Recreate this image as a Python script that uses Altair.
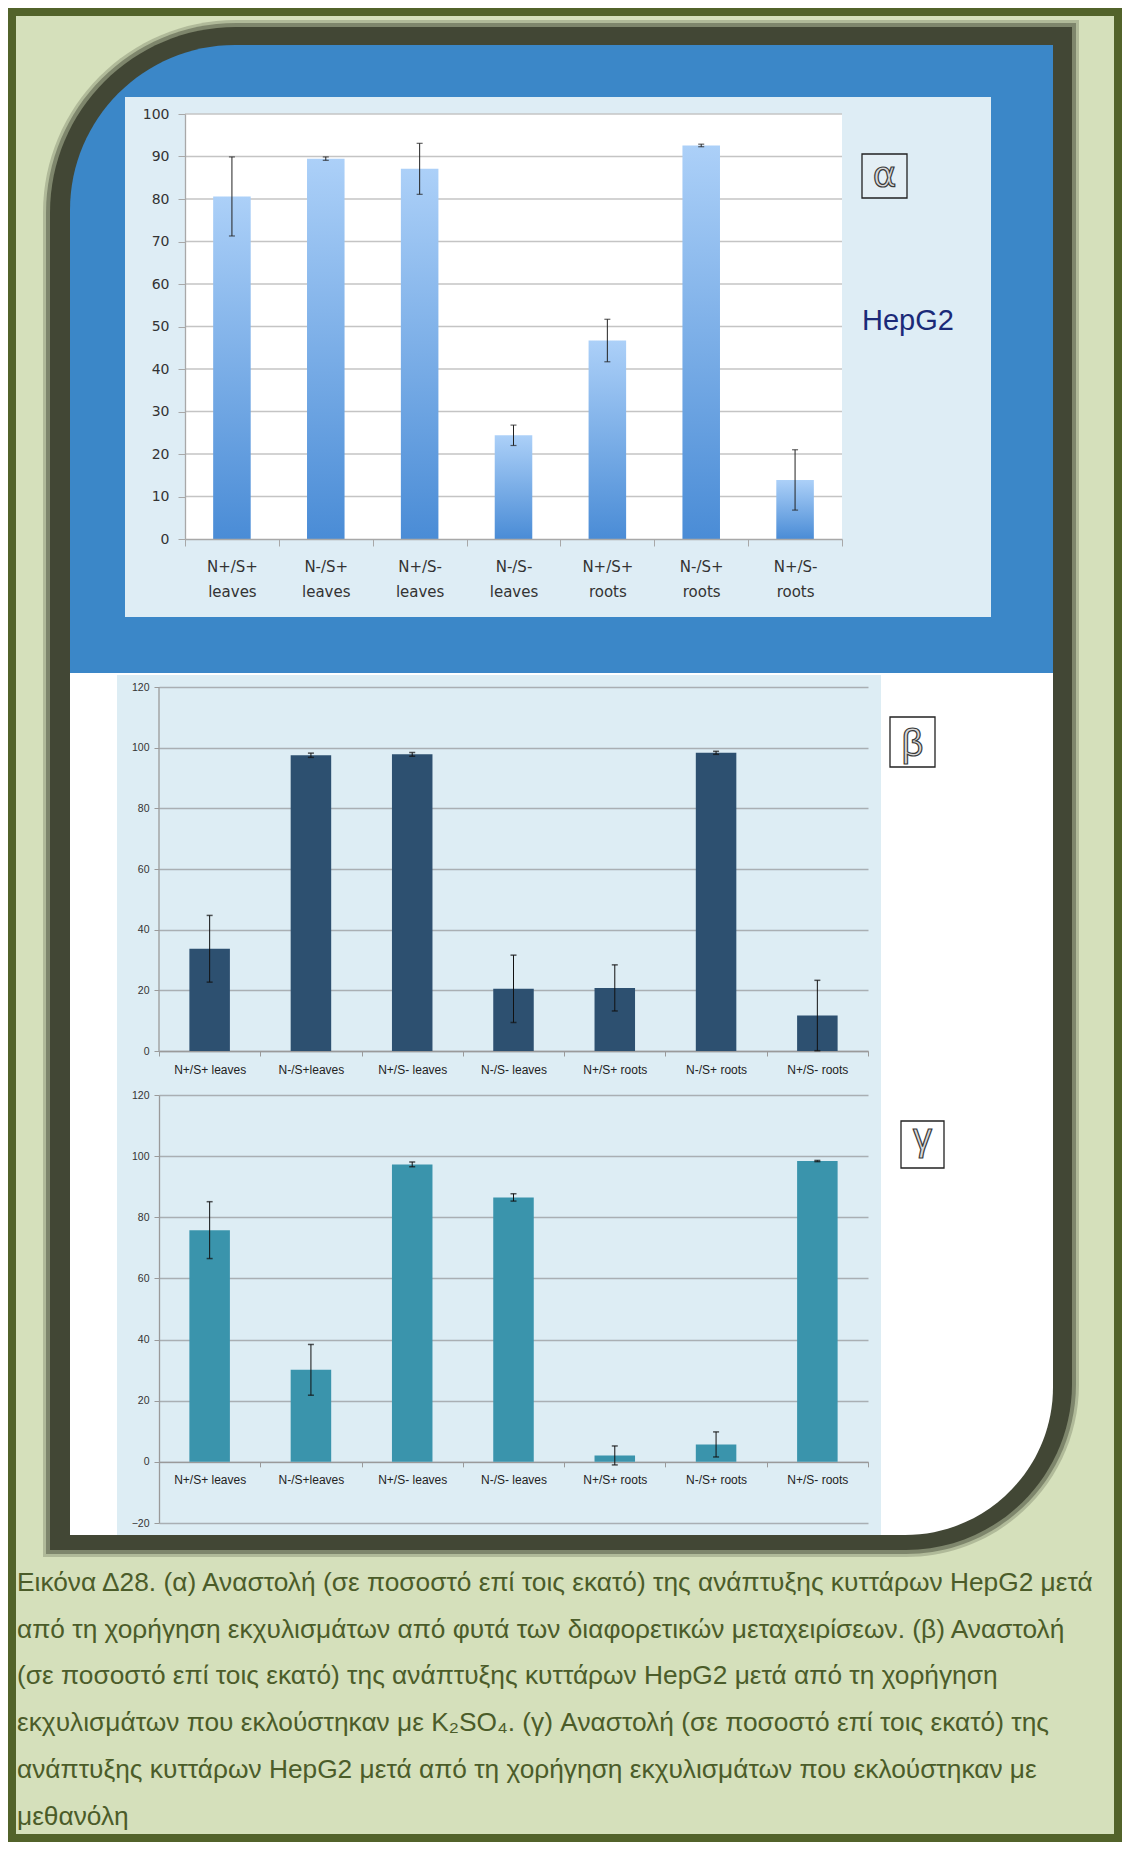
import altair as alt
import pandas as pd

# ---------------- data ----------------
cats_a = ["N+/S+ leaves", "N-/S+ leaves", "N+/S- leaves", "N-/S- leaves",
          "N+/S+ roots", "N-/S+ roots", "N+/S- roots"]
vals_a = [80.6, 89.5, 87.1, 24.4, 46.7, 92.6, 13.9]
errs_a = [9.3, 0.4, 6.0, 2.4, 5.0, 0.3, 7.1]

cats_bg = ["N+/S+ leaves", "N-/S+leaves", "N+/S- leaves", "N-/S- leaves",
           "N+/S+ roots", "N-/S+ roots", "N+/S- roots"]
vals_b = [33.7, 97.5, 97.8, 20.5, 20.8, 98.3, 11.7]
errs_b = [11.0, 0.7, 0.6, 11.1, 7.6, 0.5, 11.6]

vals_g = [75.8, 30.1, 97.3, 86.5, 2.1, 5.7, 98.4]
errs_g = [9.3, 8.3, 0.8, 1.2, 3.1, 4.1, 0.2]

ticks_a = list(range(0, 101, 10))
ticks_bg = list(range(0, 121, 20))
ticks_g = list(range(-20, 121, 20))

caption_lines = [
    "Εικόνα Δ28. (α) Αναστολή (σε ποσοστό επί τοις εκατό) της ανάπτυξης κυττάρων HepG2 μετά",
    "από τη χορήγηση εκχυλισμάτων από φυτά των διαφορετικών μεταχειρίσεων. (β) Αναστολή",
    "(σε ποσοστό επί τοις εκατό) της ανάπτυξης κυττάρων HepG2 μετά από τη χορήγηση",
    "εκχυλισμάτων που εκλούστηκαν με K₂SO₄. (γ) Αναστολή (σε ποσοστό επί τοις εκατό) της",
    "ανάπτυξης κυττάρων HepG2 μετά από τη χορήγηση εκχυλισμάτων που εκλούστηκαν με",
    "μεθανόλη",
]


def table(cats, vals, errs):
    return pd.DataFrame({
        "cat": cats,
        "val": vals,
        "lo": [v - e for v, e in zip(vals, errs)],
        "hi": [v + e for v, e in zip(vals, errs)],
    })


df_a = table(cats_a, vals_a, errs_a)
df_b = table(cats_bg, vals_b, errs_b)
df_g = table(cats_bg, vals_g, errs_g)

# ---------------- layout (page pixels) ----------------
A_W, A_H = 657, 425
B_W, B_H_PLOT, B_EXTRA = 709, 364, 104
B_H = B_H_PLOT + B_EXTRA
G_W, G_H = 709, 428
AX, AY = 159 + (B_W - A_W) / 2, 114     # origin of panel α after centring

ONE = pd.DataFrame({"k": [0]})

F_A = "DejaVu Sans"
F_BG = "Liberation Sans Narrow, Liberation Sans, Arial, sans-serif"
F_CAP = "Liberation Sans, Arial, sans-serif"

BAR_W = alt.RelativeBandSize(band=0.4)


def rect(x0, y0, x1, y1, **kw):
    return alt.Chart(ONE).mark_rect(**kw).encode(
        x=alt.value(x0 - AX), x2=alt.value(x1 - AX),
        y=alt.value(y0 - AY), y2=alt.value(y1 - AY))


def text(x, y, txt, **kw):
    return alt.Chart(ONE).mark_text(text=txt, **kw).encode(
        x=alt.value(x - AX), y=alt.value(y - AY))


FRAME = "#424735"
decor = [
    rect(12, 12, 1118, 1838, fill="#d5e0bb", stroke="#52632a", strokeWidth=8),
    rect(43, 20, 1079, 1557, fill=FRAME, opacity=0.25,
         cornerRadiusTopLeft=193, cornerRadiusBottomRight=173),
    rect(46, 23, 1076, 1554, fill=FRAME, opacity=0.45,
         cornerRadiusTopLeft=190, cornerRadiusBottomRight=170),
    rect(50, 27, 1072, 1550, fill=FRAME,
         cornerRadiusTopLeft=186, cornerRadiusBottomRight=166),
    rect(70, 45, 1053, 673, fill="#3b87c8", cornerRadiusTopLeft=165),
    rect(125, 97, 991, 617, fill="#deedf5"),
    rect(70, 673, 1053, 1535, fill="white", cornerRadiusBottomRight=148),
    rect(117, 675, 881, 1535, fill="#ddedf4"),
    rect(862, 154, 907, 198, fill="#e4eff5", stroke="#222222", strokeWidth=1.3),
    rect(890, 717, 935, 767, fill="white", stroke="#222222", strokeWidth=1.3),
    rect(901, 1121, 944, 1168, fill="white", stroke="#222222", strokeWidth=1.3),
    text(884.5, 187, "α", align="center", baseline="alphabetic", font=F_A,
         fontSize=36, fill="#d9d9d9", stroke="#3a3a3a", strokeWidth=1.2),
    text(912.5, 756, "β", align="center", baseline="alphabetic", font=F_BG,
         fontSize=38, fill="#d9d9d9", stroke="#3a3a3a", strokeWidth=1.2),
    text(922.5, 1150, "γ", align="center", baseline="alphabetic", font=F_BG,
         fontSize=38, fill="#d9d9d9", stroke="#3a3a3a", strokeWidth=1.2),
    text(862, 330, "HepG2", align="left", baseline="alphabetic", font=F_CAP,
         fontSize=29, color="#1b2a78"),
    text(17, 1591, caption_lines, align="left", baseline="alphabetic",
         font=F_CAP, fontSize=26.3, lineHeight=46.7, color="#4b5c29"),
]

# ---------------- panel α ----------------
xa = alt.X("cat:N", sort=cats_a,
           scale=alt.Scale(paddingInner=0, paddingOuter=0),
           axis=alt.Axis(title=None, labelAngle=0, tickBand="extent",
                         labelExpr="split(datum.label, ' ')", labelFont=F_A,
                         labelFontSize=15, labelColor="#333333", labelLineHeight=25,
                         labelPadding=13, tickSize=7, tickColor="#a8a8a8",
                         domainColor="#a8a8a8", domainWidth=1.3, grid=False,
                         labelOverlap=False, zindex=1))
ya_scale = alt.Scale(domain=[0, 100], nice=False)
ya_axis = alt.Axis(title=None, values=ticks_a, grid=False, tickSize=7,
                   tickColor="#a8a8a8", domainColor="#a8a8a8", domainWidth=1.3,
                   labelFont=F_A, labelFontSize=14, labelColor="#333333",
                   labelPadding=9, zindex=1)

grad = alt.Gradient(gradient="linear",
                    stops=[alt.GradientStop(color="#acd0f8", offset=0),
                           alt.GradientStop(color="#4a8cd6", offset=1)],
                    x1=0, x2=0, y1=0, y2=1)

plot_a = rect(AX, AY, AX + A_W, AY + A_H, fill="white")
grid_a = alt.Chart(pd.DataFrame({"t": ticks_a[1:]})).mark_rule(
    color="#c4c4c4", strokeWidth=1.3).encode(
    y=alt.Y("t:Q", scale=ya_scale, axis=ya_axis),
    x=alt.value(0), x2=alt.value(A_W))
bars_a = alt.Chart(df_a).mark_bar(color=grad, width=BAR_W).encode(
    x=xa, y=alt.Y("val:Q", scale=ya_scale, axis=ya_axis))
err_a = alt.Chart(df_a).mark_rule(color="#222222", strokeWidth=1).encode(
    x=xa, y=alt.Y("lo:Q", scale=ya_scale, axis=ya_axis), y2="hi:Q")
caplo_a = alt.Chart(df_a).mark_tick(color="#222222", size=6, thickness=1.2).encode(
    x=xa, y=alt.Y("lo:Q", scale=ya_scale, axis=ya_axis))
caphi_a = alt.Chart(df_a).mark_tick(color="#222222", size=6, thickness=1.2).encode(
    x=xa, y=alt.Y("hi:Q", scale=ya_scale, axis=ya_axis))

alpha = alt.layer(*decor, plot_a, grid_a, bars_a, err_a, caplo_a, caphi_a).properties(
    width=A_W, height=A_H)


# ---------------- panels β and γ ----------------
def small_panel(df, color, y_domain, y_values, height, x_offset, y_domain_rule):
    xs = alt.X("cat:N", sort=cats_bg,
               scale=alt.Scale(paddingInner=0, paddingOuter=0),
               axis=alt.Axis(title=None, labelAngle=0, tickBand="extent",
                             labelFont=F_BG, labelFontSize=12, labelColor="#222222",
                             labelPadding=8, tickSize=5, tickColor="#9a9a9a",
                             domainColor="#9a9a9a", domainWidth=1.3, grid=False,
                             offset=x_offset, labelOverlap=False))
    ys_scale = alt.Scale(domain=y_domain, nice=False)
    ys_axis = alt.Axis(title=None, values=y_values, grid=True, gridColor="#a9afb3",
                       gridWidth=1.4, tickSize=5, tickColor="#9a9a9a",
                       domain=not y_domain_rule, domainColor="#9a9a9a",
                       domainWidth=1.3, labelFont=F_BG, labelFontSize=10.5,
                       labelColor="#333333", labelPadding=5)
    layers = []
    if y_domain_rule:
        layers.append(alt.Chart(ONE).mark_rule(color="#9a9a9a", strokeWidth=1.3).encode(
            x=alt.value(0),
            y=alt.YDatum(y_values[0], type="quantitative", scale=ys_scale, axis=ys_axis),
            y2=alt.Y2Datum(y_values[-1])))
    layers += [
        alt.Chart(df).mark_bar(color=color, width=BAR_W).encode(
            x=xs, y=alt.Y("val:Q", scale=ys_scale, axis=ys_axis)),
        alt.Chart(df).mark_rule(color="#111111", strokeWidth=1).encode(
            x=xs, y=alt.Y("lo:Q", scale=ys_scale, axis=ys_axis), y2="hi:Q"),
        alt.Chart(df).mark_tick(color="#111111", size=6, thickness=1.5).encode(
            x=xs, y=alt.Y("lo:Q", scale=ys_scale, axis=ys_axis)),
        alt.Chart(df).mark_tick(color="#111111", size=6, thickness=1.5).encode(
            x=xs, y=alt.Y("hi:Q", scale=ys_scale, axis=ys_axis)),
    ]
    return alt.layer(*layers).properties(width=B_W, height=height)


B_TOP = 120 * B_H / B_H_PLOT
beta = small_panel(df_b, "#2d5070", [0, B_TOP], ticks_bg, B_H, 0, True)
G_ZERO_OFF = -G_H * 20 / 140
gamma = small_panel(df_g, "#3a94ac", [-20, 120], ticks_g, G_H, G_ZERO_OFF, False)

chart = alt.vconcat(alpha, beta, gamma, spacing=44, center=True, bounds="flush").properties(
    padding=0, background="white").configure_view(strokeWidth=0)

chart.save("out.html", embed_options={"renderer": "svg", "actions": False})
